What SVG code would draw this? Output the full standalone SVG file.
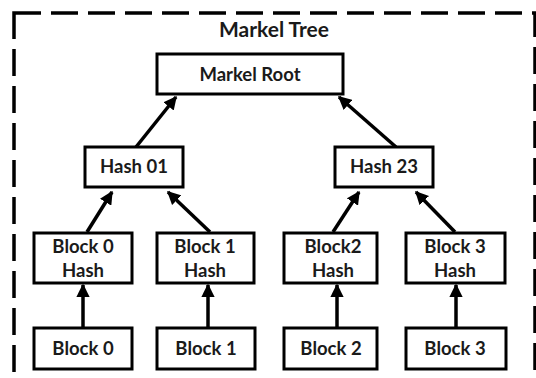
<svg xmlns="http://www.w3.org/2000/svg" width="536" height="378" viewBox="0 0 536 378">
<defs>
<style>
.box{fill:#fff;stroke:#000;stroke-width:3}
.t{font-family:Lato,"Open Sans","Liberation Sans",sans-serif;font-weight:bold;font-size:18.5px;fill:#1a1a1a;text-anchor:middle}
.title{font-size:21px}
.c{stroke:#000;stroke-width:3.5;fill:none;marker-end:url(#ah)}
</style>
<marker id="ah" viewBox="0 0 10 10" refX="9" refY="5" markerWidth="3.8" markerHeight="3.8" orient="auto" markerUnits="strokeWidth">
<path d="M0,0 L10,5 L0,10 z" fill="#000"/>
</marker>
</defs>
<rect width="536" height="378" fill="#fff"/>
<rect x="14" y="13" width="521" height="380" fill="none" stroke="#000" stroke-width="3.5" stroke-dasharray="27 10"/>
<text class="t title" x="274" y="37">Markel Tree</text>
<g id="connectors">
<line class="c" x1="136" y1="147" x2="176" y2="97"/>
<line class="c" x1="396" y1="147" x2="339" y2="97"/>
<line class="c" x1="87" y1="232" x2="112" y2="192"/>
<line class="c" x1="210" y1="232" x2="168" y2="192"/>
<line class="c" x1="333" y1="232" x2="359" y2="192"/>
<line class="c" x1="455" y1="232" x2="416" y2="192"/>
<line class="c" x1="83" y1="328" x2="83" y2="285"/>
<line class="c" x1="208" y1="328" x2="208" y2="285"/>
<line class="c" x1="337" y1="328" x2="337" y2="285"/>
<line class="c" x1="456" y1="328" x2="456" y2="285"/>
</g>
<g id="root"><rect class="box" x="157" y="54" width="186" height="40"/><text class="t" x="250" y="81">Markel Root</text></g>
<g id="hash01"><rect class="box" x="85" y="147" width="98" height="40"/><text class="t" x="134" y="173">Hash 01</text></g>
<g id="hash23"><rect class="box" x="335" y="147" width="98" height="40"/><text class="t" x="384" y="173">Hash 23</text></g>
<g id="b0h"><rect class="box" x="34" y="233" width="98" height="50"/><text class="t" x="83" y="253">Block 0</text><text class="t" x="83" y="277">Hash</text></g>
<g id="b1h"><rect class="box" x="157" y="233" width="97" height="50"/><text class="t" x="205" y="253">Block 1</text><text class="t" x="205" y="277">Hash</text></g>
<g id="b2h"><rect class="box" x="284" y="233" width="93" height="50"/><text class="t" x="333" y="253">Block2</text><text class="t" x="333" y="277">Hash</text></g>
<g id="b3h"><rect class="box" x="406" y="233" width="99" height="50"/><text class="t" x="455" y="253">Block 3</text><text class="t" x="455" y="277">Hash</text></g>
<g id="b0"><rect class="box" x="34" y="328" width="98" height="41"/><text class="t" x="83" y="355">Block 0</text></g>
<g id="b1"><rect class="box" x="157" y="328" width="98" height="41"/><text class="t" x="206" y="355">Block 1</text></g>
<g id="b2"><rect class="box" x="284" y="328" width="93" height="41"/><text class="t" x="331" y="355">Block 2</text></g>
<g id="b3"><rect class="box" x="406" y="328" width="100" height="41"/><text class="t" x="455" y="355">Block 3</text></g>
</svg>
